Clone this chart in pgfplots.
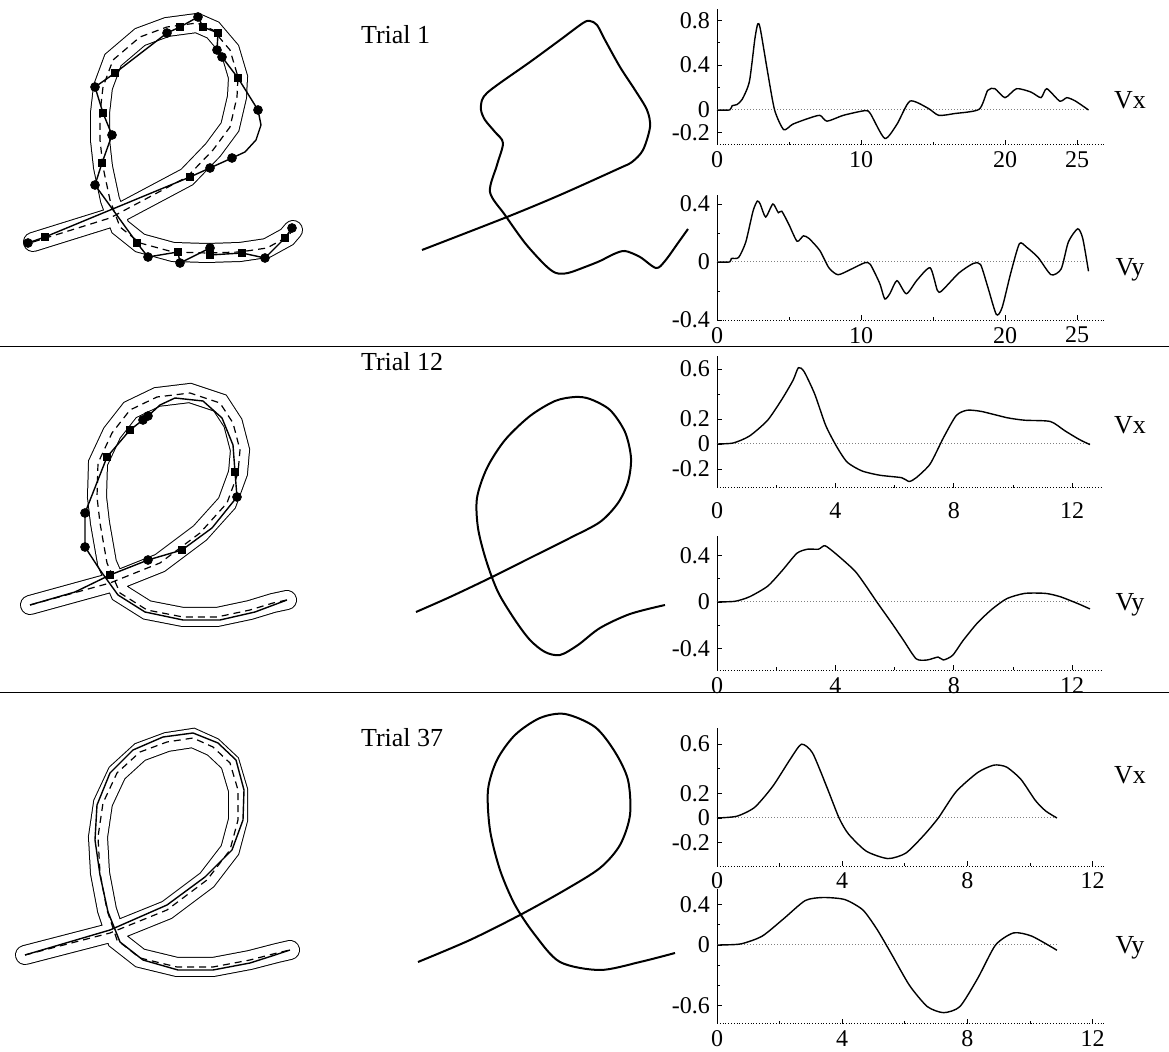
\documentclass[border=0pt]{standalone}
\usepackage{fontspec}
\setmainfont{Liberation Serif}
\usepackage{pgfplots}
\pgfplotsset{compat=1.18}

\pgfplotsset{
  vel/.style={
    anchor=origin, clip=false, enlargelimits=false,
    axis x line=bottom, axis y line=left,
    axis line style={-, line width=0.4pt, black},
    x axis line style={densely dotted},
    tick align=inside,
    major tick length=2.5pt, minor tick length=1.5pt,
    tick style={black, line width=0.4pt},
    tick label style={font=\fontsize{12}{12}\selectfont},
    /pgf/number format/assume math mode=true,
  },
  zero/.style={gray, densely dotted, line width=0.5pt},
  vcurve/.style={black, line width=0.7pt, smooth, tension=0.4},
  tube/.style={black, line width=0.5pt, double=white, double distance=9pt, line cap=round, line join=miter},
  center/.style={black, line width=0.6pt, dash pattern=on 3.5pt off 2.5pt},
  traj/.style={black, line width=0.7pt},
  circ/.style={only marks, mark=*, mark size=2.2pt, black},
  sq/.style={only marks, mark=square*, mark size=1.9pt, black},
  pen/.style={black, line width=1pt, smooth, tension=0.5},
}

\begin{document}
\begin{tikzpicture}
% overlay in pixel coordinates of the figure
\begin{axis}[at={(0,0)}, anchor=south west, scale only axis,
  width=584.5pt, height=526pt, xmin=0, xmax=1169, ymin=0, ymax=1052,
  y dir=reverse, axis lines=none, clip=false]

% separators
\addplot[black, line width=0.5pt] coordinates {(0,347) (1169,347)};
\addplot[black, line width=0.5pt] coordinates {(0,693) (1169,693)};

% ---- row 1: template tube, centre line, trajectory
\addplot[tube] coordinates {(33,242) (110,218) (187,177) (213,150) (230,127) (237,97) (238,77) (230,50) (213,30) (197,23) (167,27) (140,37) (113,60) (103,87) (100,113) (100,140) (103,167) (110,200) (120,227) (140,243) (173,252) (207,253) (240,252) (267,248) (287,237) (293,230)};
\addplot[center] coordinates {(33,242) (110,218) (187,177) (213,150) (230,127) (237,97) (238,77) (230,50) (213,30) (197,23) (167,27) (140,37) (113,60) (103,87) (100,113) (100,140) (103,167) (110,200) (120,227) (140,243) (173,252) (207,253) (240,252) (267,248) (287,237) (293,230)};
\addplot[traj] coordinates {(28,243) (45,237) (190,177) (210,168) (232,158) (245,152) (256,140) (261,125) (258,110) (238,78) (222,57) (217,50) (218,33) (203,27) (198,17) (180,27) (167,33) (115,73) (95,87) (103,113) (112,135) (102,163) (95,185) (137,243) (148,257) (178,252) (180,263) (210,248) (210,255) (242,253) (265,258) (285,238) (292,228)};
\addplot[circ] coordinates {(28,243) (210,168) (232,158) (258,110) (222,57) (217,50) (198,17) (167,33) (95,87) (112,135) (95,185) (148,257) (180,263) (210,248) (265,258) (292,228)};
\addplot[sq] coordinates {(45,237) (190,177) (238,78) (218,33) (203,27) (180,27) (115,73) (103,113) (102,163) (137,243) (178,252) (210,255) (242,253) (285,238)};

% ---- row 2
\addplot[tube] coordinates {(30,605) (110,583) (160,563) (200,533) (227,503) (238,473) (240,450) (233,423) (220,403) (190,393) (157,397) (130,410) (112,433) (98,463) (97,497) (100,523) (107,563) (120,593) (147,610) (183,617) (217,617) (250,610) (273,603) (287,600)};
\addplot[center] coordinates {(30,605) (110,583) (160,563) (200,533) (227,503) (238,473) (240,450) (233,423) (220,403) (190,393) (157,397) (130,410) (112,433) (98,463) (97,497) (100,523) (107,563) (120,593) (147,610) (183,617) (217,617) (250,610) (273,603) (287,600)};
\addplot[traj] coordinates {(30,605) (75,592) (110,575) (148,560) (182,550) (212,528) (237,497) (235,472) (233,445) (222,418) (203,401) (175,398) (160,405) (148,416) (130,430) (107,457) (85,513) (85,547) (100,570) (118,595) (145,612) (183,620) (220,620) (255,612) (287,600)};
\addplot[circ] coordinates {(148,560) (237,497) (148,416) (143,420) (85,513) (85,547)};
\addplot[sq] coordinates {(110,575) (182,550) (235,472) (130,430) (107,457)};

% ---- row 3
\addplot[tube] coordinates {(25,955) (110,933) (167,910) (207,880) (230,850) (238,820) (238,790) (230,763) (213,747) (193,738) (167,742) (140,752) (117,773) (103,803) (98,837) (100,873) (107,910) (117,940) (140,958) (177,967) (213,967) (250,960) (277,953) (290,950)};
\addplot[center] coordinates {(25,955) (110,933) (167,910) (207,880) (230,850) (238,820) (238,790) (230,763) (213,747) (193,738) (167,742) (140,752) (117,773) (103,803) (98,837) (100,873) (107,910) (117,940) (140,958) (177,967) (213,967) (250,960) (277,953) (290,950)};
\addplot[traj] coordinates {(25,955) (110,930) (167,905) (205,877) (232,850) (243,820) (244,790) (236,760) (218,743) (193,733) (163,737) (133,750) (110,773) (97,805) (95,840) (100,875) (108,912) (120,942) (143,960) (178,970) (213,970) (250,963) (275,955) (290,950)};

% ---- middle: pen trajectories
\addplot[pen] coordinates {(422,250) (507,217) (560,195) (620,168) (632,162) (643,150) (650,127) (647,110) (635,90) (620,67) (605,40) (597,25) (590,21) (583,23) (560,40) (530,62) (500,83) (487,93) (482,100) (481,110) (485,120) (495,132) (503,143) (497,165) (490,192) (505,215) (525,243) (545,265) (556,273) (568,273) (585,267) (600,261) (614,254) (625,251) (640,257) (656,268) (665,261) (678,243) (688,229)};
\addplot[pen] coordinates {(416,612) (450,597) (490,578) (530,558) (570,538) (600,522) (618,503) (628,482) (631,458) (625,432) (610,410) (590,399) (575,397) (555,401) (530,416) (505,440) (487,468) (477,498) (478,528) (486,560) (498,592) (515,620) (530,640) (545,652) (560,655) (578,645) (600,628) (630,614) (665,605)};
\addplot[pen] coordinates {(418,962) (470,940) (520,915) (565,890) (600,868) (620,845) (630,815) (628,780) (615,752) (595,727) (565,714) (540,718) (515,735) (497,760) (488,790) (490,830) (500,870) (515,905) (535,935) (560,962) (600,970) (640,962) (675,953)};

% ---- labels
\node[anchor=west, font=\fontsize{13}{13}\selectfont] at (axis cs:354,35) {Trial 1};
\node[anchor=west, font=\fontsize{13}{13}\selectfont] at (axis cs:354,362) {Trial 12};
\node[anchor=west, font=\fontsize{13}{13}\selectfont] at (axis cs:354,738) {Trial 37};
\node[font=\fontsize{13}{13}\selectfont] at (axis cs:1130,100) {Vx};
\node[font=\fontsize{13}{13}\selectfont] at (axis cs:1130,270) {Vy};
\node[font=\fontsize{13}{13}\selectfont] at (axis cs:1130,425) {Vx};
\node[font=\fontsize{13}{13}\selectfont] at (axis cs:1130,605) {Vy};
\node[font=\fontsize{13}{13}\selectfont] at (axis cs:1130,775) {Vx};
\node[font=\fontsize{13}{13}\selectfont] at (axis cs:1130,948) {Vy};
\end{axis}

% ---- Trial 1 Vx
\begin{axis}[vel, at={(358.5pt,471pt)}, x=7.2pt, y=56pt,
  xmin=0, xmax=27, ymin=-0.31, ymax=0.9,
  xtick={0,10,20,25}, minor xtick={5,15},
  ytick={-0.2,0,0.4,0.8}, minor ytick={0.2,0.6}]
\addplot[zero] coordinates {(0,0) (25.8,0)};
\addplot[vcurve] coordinates {(0,0) (0.88,0) (1.05,0.038) (1.38,0.048) (1.75,0.095) (2.25,0.254) (2.63,0.635) (2.83,0.768) (3.0,0.73) (3.5,0.35) (4.0,0) (4.63,-0.175) (5.26,-0.127) (6.26,-0.079) (7.14,-0.048) (7.64,-0.10) (8.77,-0.048) (10.27,-0.006) (10.65,-0.032) (11.65,-0.254) (12.5,-0.127) (13.4,0.079) (14.65,0.016) (15.4,-0.048) (16.5,-0.032) (18.2,0.006) (18.8,0.175) (19.3,0.19) (20.0,0.11) (20.8,0.19) (21.8,0.16) (22.5,0.11) (22.9,0.19) (23.8,0.079) (24.3,0.11) (24.9,0.079) (25.8,0)};
\end{axis}

% ---- Trial 1 Vy
\begin{axis}[vel, at={(358.5pt,395pt)}, x=7.2pt, y=72.5pt,
  xmin=0, xmax=27, ymin=-0.4, ymax=0.46,
  xtick={0,10,20,25}, minor xtick={5,15},
  ytick={-0.4,0,0.4}, minor ytick={-0.2,0.2}]
\addplot[zero] coordinates {(0,0) (25.8,0)};
\addplot[vcurve] coordinates {(0,0) (0.88,0) (1.0,0.024) (1.5,0.031) (2.0,0.138) (2.5,0.35) (2.8,0.42) (3.0,0.40) (3.38,0.31) (3.88,0.40) (4.26,0.34) (4.5,0.35) (5.0,0.257) (5.56,0.143) (6.0,0.18) (6.39,0.162) (7.14,0.079) (7.77,-0.040) (8.4,-0.088) (9.27,-0.052) (10.27,-0.005) (10.65,-0.017) (11.3,-0.148) (11.65,-0.255) (12.0,-0.219) (12.5,-0.129) (13.15,-0.219) (13.9,-0.124) (14.8,-0.040) (15.3,-0.195) (15.6,-0.2) (16.8,-0.076) (17.8,-0.010) (18.3,-0.017) (18.8,-0.171) (19.4,-0.362) (19.8,-0.314) (20.4,-0.076) (21.0,0.126) (21.5,0.102) (22.3,0.031) (23.2,-0.088) (23.9,-0.048) (24.4,0.138) (25.05,0.229) (25.4,0.162) (25.8,-0.064)};
\end{axis}

% ---- Trial 12 Vx
\begin{axis}[vel, at={(358.5pt,304pt)}, x=14.8pt, y=62.5pt,
  xmin=0, xmax=13, ymin=-0.35, ymax=0.7,
  xtick={0,4,8,12}, minor xtick={2,6,10},
  ytick={-0.2,0,0.2,0.6}, minor ytick={0.4},
  xticklabel style={yshift=-4pt}]
\addplot[zero] coordinates {(0,0) (12.6,0)};
\addplot[vcurve] coordinates {(0,0) (0.55,0.008) (1.1,0.064) (1.71,0.19) (2.2,0.36) (2.57,0.51) (2.75,0.61) (2.94,0.58) (3.3,0.40) (3.67,0.15) (4.04,-0.02) (4.4,-0.146) (4.9,-0.216) (5.5,-0.25) (6.24,-0.27) (6.49,-0.30) (6.73,-0.27) (7.2,-0.16) (7.65,0.05) (8.08,0.227) (8.45,0.27) (8.94,0.26) (9.8,0.21) (10.4,0.19) (11.26,0.18) (11.75,0.106) (12.24,0.036) (12.6,-0.005)};
\end{axis}

% ---- Trial 12 Vy
\begin{axis}[vel, at={(358.5pt,225pt)}, x=14.8pt, y=58pt,
  xmin=0, xmax=13, ymin=-0.59, ymax=0.57,
  xtick={0,4,8,12}, minor xtick={2,6,10},
  ytick={-0.4,0,0.4}, minor ytick={-0.2,0.2}]
\addplot[zero] coordinates {(0,0) (12.6,0)};
\addplot[vcurve] coordinates {(0,0) (0.61,0.006) (1.1,0.045) (1.71,0.136) (2.2,0.27) (2.7,0.42) (3.06,0.455) (3.43,0.455) (3.65,0.485) (4.04,0.41) (4.65,0.27) (5.0,0.15) (5.4,0) (5.9,-0.18) (6.3,-0.33) (6.73,-0.49) (7.1,-0.50) (7.47,-0.475) (7.65,-0.50) (7.96,-0.46) (8.32,-0.33) (8.8,-0.18) (9.3,-0.06) (9.8,0.03) (10.4,0.074) (11.1,0.074) (11.6,0.045) (12.2,-0.015) (12.6,-0.06)};
\end{axis}

% ---- Trial 37 Vx
\begin{axis}[vel, at={(358.5pt,117pt)}, x=15.65pt, y=61.5pt,
  xmin=0, xmax=12.35, ymin=-0.39, ymax=0.73,
  xtick={0,4,8,12}, minor xtick={2,6,10},
  ytick={-0.2,0,0.2,0.6}, minor ytick={0.4}]
\addplot[zero] coordinates {(0,0) (10.86,0)};
\addplot[vcurve] coordinates {(0,0) (0.63,0.014) (1.2,0.086) (1.78,0.257) (2.36,0.486) (2.7,0.6) (3.05,0.53) (3.5,0.257) (3.9,0) (4.2,-0.13) (4.77,-0.27) (5.46,-0.33) (6.03,-0.286) (6.6,-0.143) (7.07,0) (7.64,0.214) (8.33,0.37) (8.85,0.43) (9.25,0.414) (9.71,0.314) (10.17,0.143) (10.5,0.057) (10.86,0)};
\end{axis}

% ---- Trial 37 Vy
\begin{axis}[vel, at={(358.5pt,53.5pt)}, x=15.65pt, y=50.5pt,
  xmin=0, xmax=12.35, ymin=-0.78, ymax=0.55,
  xtick={0,4,8,12}, minor xtick={2,6,10},
  ytick={-0.6,0,0.4}, minor ytick={-0.4,-0.2,0.2}]
\addplot[zero] coordinates {(0,0) (10.86,0)};
\addplot[vcurve] coordinates {(0,0) (0.75,0.01) (1.44,0.087) (2.13,0.26) (2.82,0.44) (3.39,0.47) (4.08,0.45) (4.66,0.347) (5.11,0.156) (5.57,-0.087) (6.15,-0.4) (6.72,-0.61) (7.24,-0.67) (7.76,-0.61) (8.33,-0.33) (8.9,0) (9.48,0.12) (10.06,0.087) (10.86,-0.052)};
\end{axis}

\pgfresetboundingbox
\path[use as bounding box] (0,0) rectangle (584.5pt,526pt);
\end{tikzpicture}
\end{document}
